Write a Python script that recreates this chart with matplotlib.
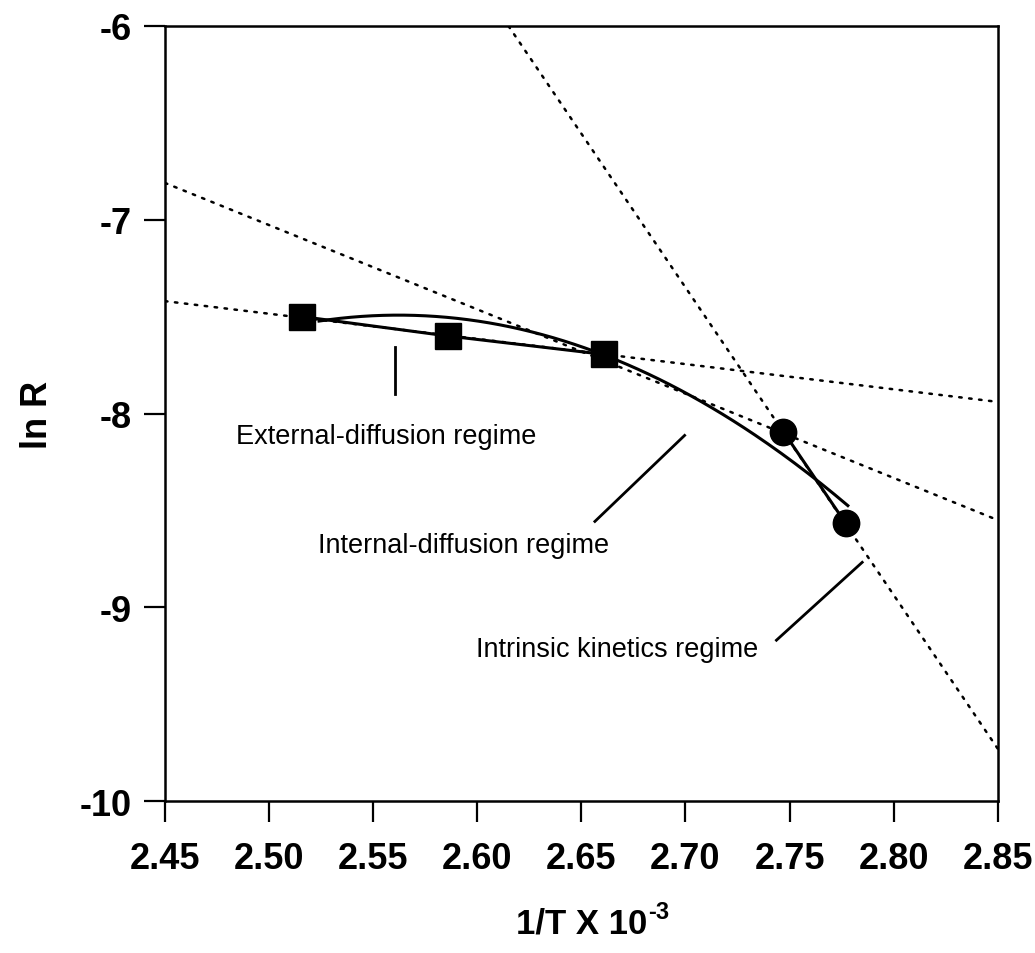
import numpy as np
import matplotlib
matplotlib.use("Agg")
import matplotlib.pyplot as plt

plt.rcParams['font.family'] = ['Liberation Sans', 'DejaVu Sans']
plt.rcParams['axes.unicode_minus'] = False

# measured points (1/T x 10^-3, ln R)
square_x = [2.516, 2.586, 2.661]
square_y = [-7.50, -7.60, -7.695]
circle_x = [2.747, 2.777]
circle_y = [-8.093, -8.567]

# smooth trend curve, nodes (fitted below)
curve_x = [2.524, 2.556, 2.604, 2.633, 2.661, 2.708, 2.728, 2.747, 2.764, 2.778]
curve_y = [-7.52, -7.50, -7.526, -7.60, -7.69, -7.94, -8.08, -8.22, -8.35, -8.47]

# dotted regime lines (end points)
shallow_x = [2.45, 2.85]
shallow_y = [-7.42, -7.94]
mid_x = [2.45, 2.85]
mid_y = [-6.81, -8.55]
steep_x = [2.615, 2.85]
steep_y = [-6.0, -9.73]

# annotation labels (baseline position) and leader lines
labels = ["External-diffusion regime", "Internal-diffusion regime", "Intrinsic kinetics regime"]
label_x = [2.5564, 2.5936, 2.667]
label_y = [-8.150, -8.713, -9.25]
leader_x = [[2.5607, 2.5607], [2.6565, 2.6996], [2.7437, 2.7849]]
leader_y = [[-7.655, -7.897], [-8.557, -8.113], [-9.170, -8.768]]

xticks = [2.45, 2.50, 2.55, 2.60, 2.65, 2.70, 2.75, 2.80, 2.85]
yticks = [-10, -9, -8, -7, -6]

fig = plt.figure(figsize=(10.35, 9.54), dpi=100)
ax = fig.add_axes([0.1594, 0.1593, 0.8046, 0.8124])

dot = dict(color='black', lw=1.8, linestyle=(0, (1, 3)), dash_capstyle='round')
ax.plot(shallow_x, shallow_y, **dot)
ax.plot(mid_x, mid_y, **dot)
ax.plot(steep_x, steep_y, **dot)

coef = np.polyfit(curve_x, curve_y, 2)
xs = np.linspace(curve_x[0], curve_x[-1], 200)
ax.plot(xs, np.polyval(coef, xs), color='black', lw=2.2)

ax.plot(square_x, square_y, color='black', lw=2.2, marker='s', markersize=19)
ax.plot(circle_x, circle_y, color='black', lw=2.2, marker='o', markersize=19)

for txt, tx, ty, lx, ly in zip(labels, label_x, label_y, leader_x, leader_y):
    ax.plot(lx, ly, color='black', lw=2.0)
    ax.text(tx, ty, txt, fontsize=19.5, ha='center', va='baseline')

ax.set_xlim(2.45, 2.85)
ax.set_ylim(-10, -6)
ax.set_xticks(xticks)
ax.set_xticklabels([f"{v:.2f}" for v in xticks])
ax.set_yticks(yticks)
ax.set_yticklabels([str(v) for v in yticks])
ax.tick_params(direction='out', length=15, width=1.6, labelsize=26)
ax.tick_params(axis='x', pad=14)
ax.tick_params(axis='y', pad=9)
for lab in ax.get_xticklabels() + ax.get_yticklabels():
    lab.set_fontweight('bold')
for s in ax.spines.values():
    s.set_linewidth(1.8)

ax.set_xlabel('1/T X 10', fontsize=25, fontweight='bold', labelpad=22)
ax.annotate('-3', xy=(1, 1), xycoords=ax.xaxis.label, xytext=(0.5, 5),
            textcoords='offset points', ha='left', va='top',
            fontsize=17, fontweight='bold')
ax.set_ylabel('ln R', fontsize=26, fontweight='bold', labelpad=18)

fig.savefig('out.png', dpi=100)
